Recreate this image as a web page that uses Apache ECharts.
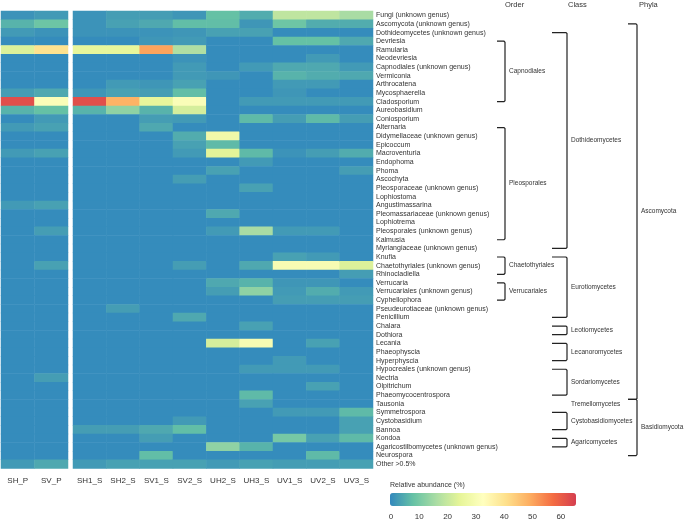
<!DOCTYPE html>
<html>
<head>
<meta charset="utf-8">
<script src="https://cdn.jsdelivr.net/npm/echarts@6.0.0/dist/echarts.min.js"></script>
<style>
  html, body { margin: 0; padding: 0; background: #fff; }
  #main { width: 685px; height: 526px; }
</style>
</head>
<body>
<div id="main"></div>
<script>
// genera, top to bottom
var genera = [
  'Fungi (unknown genus)', 'Ascomycota (unknown genus)', 'Dothideomycetes (unknown genus)', 'Devriesia',
  'Ramularia', 'Neodevriesia', 'Capnodiales (unknown genus)', 'Vermiconia', 'Arthrocatena', 'Mycosphaerella',
  'Cladosporium', 'Aureobasidium', 'Coniosporium', 'Alternaria', 'Didymellaceae (unknown genus)', 'Epicoccum',
  'Macroventuria', 'Endophoma', 'Phoma', 'Ascochyta', 'Pleosporaceae (unknown genus)', 'Lophiostoma',
  'Angustimassarina', 'Pleomassariaceae (unknown genus)', 'Lophiotrema', 'Pleosporales (unknown genus)',
  'Kalmusia', 'Myriangiaceae (unknown genus)', 'Knufia', 'Chaetothyriales (unknown genus)', 'Rhinocladiella',
  'Verrucaria', 'Verrucariales (unknown genus)', 'Cyphellophora', 'Pseudeurotiaceae (unknown genus)',
  'Penicillium', 'Chalara', 'Dothiora', 'Lecania', 'Phaeophyscia', 'Hyperphyscia', 'Hypocreales (unknown genus)',
  'Nectria', 'Olpitrichum', 'Phaeomycocentrospora', 'Tausonia', 'Symmetrospora', 'Cystobasidium', 'Bannoa',
  'Kondoa', 'Agaricostilbomycetes (unknown genus)', 'Neurospora', 'Other >0.5%'
];

var samplesP = ['SH_P', 'SV_P'];
var samplesS = ['SH1_S', 'SH2_S', 'SV1_S', 'SV2_S', 'UH2_S', 'UH3_S', 'UV1_S', 'UV2_S', 'UV3_S'];

// relative abundance (%) per sample, one value per genus (rows of ten)
var SH_P  = [1.5,6,2.5,0.5,23,0.5,0.5,0.5,0.5,3,  62,6,0.5,2.5,0.5,0.5,2.5,0.5,0.5,0.5,  0.5,0.5,2.5,0.5,0.5,0.5,0.5,0.5,0.5,0.5,
             0.5,0.5,0.5,0.5,0.5,0.5,0.5,0.5,0.5,0.5,  0.5,0.5,0.5,0.5,0.5,0.5,0.5,0.5,0.5,0.5,  0.5,0.5,2.5];
var SV_P  = [2.5,9,1.5,0.5,40,0.5,0.5,0.5,0.5,4.5,  31,8,2.5,3.5,0.5,0.5,3.5,0.5,0.5,0.5,  0.5,0.5,3.5,0.5,0.5,3,0.5,0.5,0.5,3.5,
             0.5,0.5,0.5,0.5,0.5,0.5,0.5,0.5,0.5,0.5,  0.5,0.5,3,0.5,0.5,0.5,0.5,0.5,0.5,0.5,  0.5,0.5,4.5];
var SH1_S = [1.5,1.5,1.5,0.5,25,0.5,0.5,0.5,0.5,2,  62,6,0.5,0.5,0.5,0.5,0.5,0.5,0.5,0.5,  0.5,0.5,0.5,0.5,0.5,0.5,0.5,0.5,0.5,0.5,
             0.5,0.5,0.5,0.5,0.5,0.5,0.5,0.5,0.5,0.5,  0.5,0.5,0.5,0.5,0.5,0.5,0.5,0.5,3,0.5,  0.5,0.5,2.5];
var SH2_S = [3,3.5,1.5,0.5,25,0.5,0.5,0.5,2.5,3.5,  48,13,0.5,0.5,0.5,0.5,0.5,0.5,0.5,0.5,  0.5,0.5,0.5,0.5,0.5,0.5,0.5,0.5,0.5,0.5,
             0.5,0.5,0.5,0.5,3,0.5,0.5,0.5,0.5,0.5,  0.5,0.5,0.5,0.5,0.5,0.5,0.5,0.5,3,0.5,  0.5,0.5,3.5];
var SV1_S = [3,4.5,1.5,2,50,0.5,0.5,0.5,2,3,  25,6,3,4.5,0.5,0.5,0.5,0.5,0.5,0.5,  0.5,0.5,0.5,0.5,0.5,0.5,0.5,0.5,0.5,0.5,
             0.5,0.5,0.5,0.5,0.5,0.5,0.5,0.5,0.5,0.5,  0.5,0.5,0.5,0.5,0.5,0.5,0.5,0.5,4.5,3,  0.5,7.5,3.5];
var SV2_S = [2,7.5,2,2.5,17,1.5,2.5,2.5,3.5,7.5,  31,22,2.5,0.5,5,3.5,2.5,0.5,0.5,3,  0.5,0.5,0.5,0.5,0.5,0.5,0.5,0.5,0.5,3,
             0.5,0.5,0.5,0.5,0.5,4.5,0.5,0.5,0.5,0.5,  0.5,0.5,0.5,0.5,0.5,0.5,0.5,2.5,7.5,0.5,  0.5,0.5,3.5];
var UH2_S = [8,7.5,3.5,0.5,0.5,0.5,0.5,2,0.5,0.5,  0.5,0.5,0.5,0.5,28,7,24,0.5,3.5,0.5,  0.5,0.5,0.5,4.5,0.5,2.5,0.5,0.5,0.5,0.5,
             0.5,4.5,3,0.5,0.5,0.5,0.5,0.5,22,0.5,  0.5,0.5,0.5,0.5,0.5,0.5,0.5,0.5,0.5,0.5,  13,0.5,2.5];
var UH3_S = [5,2,3.5,0.5,0.5,0.5,2.5,0.5,0.5,0.5,  2.5,0.5,7,0.5,0.5,0.5,7,2.5,0.5,0.5,  3.5,0.5,0.5,0.5,0.5,16,0.5,0.5,0.5,4.5,
             0.5,6,13,0.5,0.5,0.5,3.5,0.5,30,0.5,  0.5,2.5,0.5,0.5,7,3.5,0.5,0.5,0.5,0.5,  6,0.5,3.5];
var UV1_S = [19,9,0.5,8,0.5,0.5,4.5,6,2.5,2,  2.5,0.5,3,0.5,0.5,0.5,1.5,0.5,0.5,0.5,  0.5,0.5,0.5,0.5,0.5,2.5,0.5,0.5,3.5,30,
             0.5,2,2.5,3,0.5,0.5,0.5,0.5,0.5,0.5,  2.5,2.5,0.5,0.5,0.5,0.5,2.5,0.5,0.5,10,  0.5,0.5,3];
var UV2_S = [19,5,0.5,8,0.5,2.5,4.5,5,2.5,0.5,  2.5,0.5,7,0.5,0.5,0.5,3,0.5,0.5,0.5,  0.5,0.5,0.5,0.5,0.5,2.5,0.5,0.5,2.5,30,
             0.5,2,5,3,0.5,0.5,0.5,0.5,3.5,0.5,  0.5,2.5,0.5,3.5,0.5,0.5,2.5,0.5,0.5,3.5,  0.5,7,3];
var UV3_S = [16,5,0.5,4.5,0.5,0.5,2.5,4.5,0.5,0.5,  2.5,0.5,3,0.5,0.5,0.5,5,0.5,3,0.5,  0.5,0.5,0.5,0.5,0.5,0.5,0.5,0.5,0.5,23,
             3,0.5,2.5,3,0.5,0.5,0.5,0.5,0.5,0.5,  0.5,0.5,0.5,0.5,0.5,0.5,7,3.5,3.5,7,  0.5,0.5,3.5];

// colour bar ticks
var legendTicks = [0, 10, 20, 30, 40, 50, 60];

// taxonomic groups: [label, first genus index, last genus index]
var orderGroups = [
  ['Capnodiales', 3, 10],
  ['Pleosporales', 13, 26],
  ['Chaetothyriales', 28, 30],
  ['Verrucariales', 31, 33]
];
var classGroups = [
  ['Dothideomycetes', 2, 27],
  ['Eurotiomycetes', 28, 35],
  ['Leotiomycetes', 36, 37],
  ['Lecanoromycetes', 38, 40],
  ['Sordariomycetes', 41, 44],
  ['Tremellomycetes', 45, 45],
  ['Cystobasidiomycetes', 46, 48],
  ['Agaricomycetes', 49, 50]
];
var phylaGroups = [
  ['Ascomycota', 1, 44.5],
  ['Basidiomycota', 44.5, 51]
];

var font = 'Liberation Sans, Arial, sans-serif';
var txt = '#333';

function cells(cols) {
  var out = [];
  for (var c = 0; c < cols.length; c++) {
    for (var r = 0; r < genera.length; r++) {
      out.push([c, r, cols[c][r]]);
    }
  }
  return out;
}

// bracket drawer, x positions are layout only
function bracketSeries(groups, tickX, lineX, labelX) {
  return {
    type: 'custom',
    xAxisIndex: 1,
    yAxisIndex: 1,
    clip: false,
    silent: true,
    data: groups.map(function (g) { return [0, Math.floor(g[1]), g[1], g[2]]; }),
    renderItem: function (params, api) {
      var g = groups[params.dataIndex];
      var h = api.size([0, 1])[1];
      var y0 = api.coord([0, Math.floor(g[1])])[1] + (g[1] - Math.floor(g[1])) * h;
      var y1 = api.coord([0, Math.floor(g[2])])[1] + (g[2] - Math.floor(g[2])) * h;
      var children = [];
      if (g[2] > g[1]) {
        children.push({
          type: 'polyline',
          shape: { points: [[tickX, y0], [lineX - 1, y0], [lineX, y0 + 1], [lineX, y1 - 1], [lineX - 1, y1], [tickX, y1]] },
          style: { stroke: '#222', lineWidth: 1.2, fill: null }
        });
      }
      children.push({
        type: 'text',
        style: {
          x: labelX, y: (y0 + y1) / 2, text: g[0],
          fill: txt, fontSize: 6.5, fontFamily: font,
          verticalAlign: 'middle', align: 'left'
        }
      });
      return { type: 'group', children: children };
    }
  };
}

var myChart = echarts.init(document.getElementById('main'));

var option = {
  backgroundColor: '#fff',
  animation: false,
  textStyle: { fontFamily: font },
  grid: [
    { left: 1, top: 11, width: 67, height: 457.5 },
    { left: 73, top: 11, width: 300, height: 457.5 },
    { left: 391, top: 506, width: 184, height: 1 }
  ],
  xAxis: [
    {
      type: 'category', gridIndex: 0, data: samplesP,
      axisLine: { show: false }, axisTick: { show: false }, splitLine: { show: false },
      axisLabel: { fontSize: 8, color: txt, margin: 8, interval: 0 }
    },
    {
      type: 'category', gridIndex: 1, data: samplesS,
      axisLine: { show: false }, axisTick: { show: false }, splitLine: { show: false },
      axisLabel: { fontSize: 8, color: txt, margin: 8, interval: 0 }
    },
    {
      type: 'value', gridIndex: 2, min: 0, max: 65, interval: 10,
      axisLine: { show: false }, axisTick: { show: false }, splitLine: { show: false },
      axisLabel: {
        fontSize: 8, color: txt, margin: 6,
        formatter: function (v) { return legendTicks.indexOf(v) >= 0 ? String(v) : ''; }
      }
    }
  ],
  yAxis: [
    {
      type: 'category', gridIndex: 0, data: genera, inverse: true, show: false
    },
    {
      type: 'category', gridIndex: 1, data: genera, inverse: true, position: 'right',
      axisLine: { show: false }, axisTick: { show: false }, splitLine: { show: false },
      axisLabel: { fontSize: 7, color: txt, margin: 3, interval: 0, align: 'left' }
    },
    { type: 'value', gridIndex: 2, show: false }
  ],
  visualMap: {
    type: 'continuous',
    min: 0, max: 65,
    seriesIndex: [0, 1],
    orient: 'horizontal',
    left: 390, top: 493,
    padding: 0,
    itemWidth: 13, itemHeight: 186,
    calculable: false,
    showLabel: false,
    inRange: {
      color: ['#3288bd', '#66c2a5', '#abdda4', '#e6f598', '#ffffbf', '#fee08b', '#fdae61', '#f46d43', '#d53e4f']
    }
  },
  graphic: [
    { type: 'text', left: 390, top: 482, style: { text: 'Relative abundance (%)', fontSize: 7, fill: txt, fontFamily: font } },
    { type: 'text', left: 505, top: 1, style: { text: 'Order', fontSize: 7.5, fill: txt, fontFamily: font } },
    { type: 'text', left: 568, top: 1, style: { text: 'Class', fontSize: 7.5, fill: txt, fontFamily: font } },
    { type: 'text', left: 639, top: 1, style: { text: 'Phyla', fontSize: 7.5, fill: txt, fontFamily: font } }
  ],
  series: [
    {
      type: 'heatmap', xAxisIndex: 0, yAxisIndex: 0,
      data: cells([SH_P, SV_P]),
      emphasis: { disabled: true }
    },
    {
      type: 'heatmap', xAxisIndex: 1, yAxisIndex: 1,
      data: cells([SH1_S, SH2_S, SV1_S, SV2_S, UH2_S, UH3_S, UV1_S, UV2_S, UV3_S]),
      emphasis: { disabled: true }
    },
    bracketSeries(orderGroups, 497, 505, 509),
    bracketSeries(classGroups, 552, 567, 571),
    bracketSeries(phylaGroups, 628, 637, 641)
  ]
};

myChart.setOption(option);
</script>
</body>
</html>
